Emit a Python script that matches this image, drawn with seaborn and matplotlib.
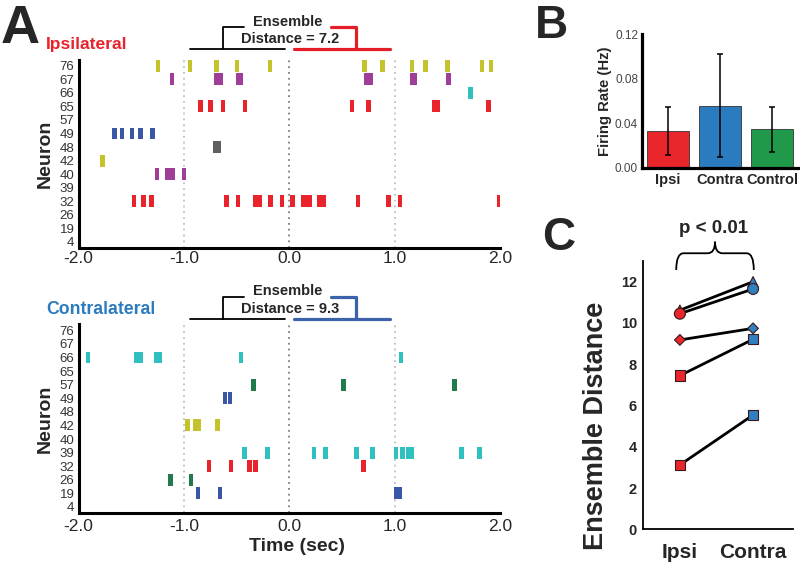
import numpy as np
import pandas as pd
import matplotlib
matplotlib.use("Agg")
import matplotlib.pyplot as plt
import matplotlib.transforms as mtransforms
from matplotlib.path import Path
from matplotlib.patches import PathPatch
import seaborn as sns

sns.set_style("white")
plt.rcParams["font.family"] = ["Liberation Sans", "DejaVu Sans"]

# ---------------- data ----------------
neurons = [76, 67, 66, 65, 57, 49, 48, 42, 40, 39, 32, 26, 19, 4]
time_ticks = [-2.0, -1.0, 0.0, 1.0, 2.0]

ipsi_spikes = {
    76: [-1.244, -0.941, -0.693, -0.496, -0.183, 0.715, 0.882, 1.164, 1.290, 1.502, 1.828, 1.914],
    67: [-1.113, -0.690, -0.655, -0.485, -0.465, 0.735, 0.770, 1.170, 1.195, 1.512],
    66: [1.720],
    65: [-0.844, -0.750, -0.629, -0.420, 0.595, 0.750, 1.380, 1.410, 1.891],
    49: [-1.660, -1.588, -1.493, -1.414, -1.300],
    48: [-0.700, -0.670],
    42: [-1.771],
    40: [-1.255, -1.158, -1.107, -0.999],
    32: [-1.474, -1.385, -1.309, -0.598, -0.487, -0.318, -0.277, -0.180, -0.069, 0.032,
         0.133, 0.165, 0.198, 0.285, 0.330, 0.651, 0.939, 1.050, 1.995],
}
contra_spikes = {
    66: [-1.910, -1.452, -1.407, -1.260, -1.225, -0.458, 1.060],
    57: [-0.342, 0.515, 1.568],
    49: [-0.610, -0.562],
    42: [-0.967, -0.895, -0.862, -0.678],
    39: [-0.426, -0.208, 0.235, 0.346, 0.640, 0.788, 1.013, 1.077, 1.130, 1.165, 1.637, 1.804],
    32: [-0.761, -0.552, -0.378, -0.318, 0.703],
    26: [-1.128, -0.932],
    19: [-0.865, -0.657, 1.018, 1.046],
}
ipsi_distance_label = "Distance = 7.2"
contra_distance_label = "Distance = 9.3"

b_groups = ["Ipsi", "Contra", "Control"]
b_rate = [0.0330, 0.0555, 0.0348]
b_low = [0.0114, 0.0093, 0.0144]
b_high = [0.0549, 0.1020, 0.0549]
b_ticks = [0.00, 0.04, 0.08, 0.12]

c_conditions = ["Ipsi", "Contra"]
c_ipsi = [10.62, 10.45, 9.18, 7.45, 3.12]
c_contra = [12.00, 11.65, 9.74, 9.21, 5.54]
c_ticks = [0, 2, 4, 6, 8, 10, 12]

# ---------------- styles ----------------
OLIVE, PURPLE, CYAN, RED = "#c4c32c", "#9e3e98", "#30c0c0", "#e8232b"
BLUE, GRAY, GREEN = "#3a56a6", "#606060", "#1f7b4c"
neuron_colors = {76: OLIVE, 67: PURPLE, 66: CYAN, 65: RED, 57: GREEN, 49: BLUE,
                 48: GRAY, 42: OLIVE, 40: PURPLE, 39: CYAN, 32: RED, 26: GREEN,
                 19: BLUE, 4: "black"}
b_palette = {"Ipsi": "#e8262b", "Contra": "#2b7bbf", "Control": "#20994a"}
c_palette = {"Ipsi": "#e8262b", "Contra": "#2f7fc1"}
c_markers = ["^", "o", "D", "s", "s"]
c_sizes = [55, 62, 30, 55, 55]

W, H = 800, 563
fig = plt.figure(figsize=(8, 5.63), dpi=100)


def rect(l, t, r, b):
    return [l / W, 1 - b / H, (r - l) / W, (b - t) / H]


def fx(px):
    return px / W


def fy(py):
    return 1 - py / H


# ---------------- Panel A rasters ----------------
def raster(ax, spikes, xpad):
    for i, n in enumerate(neurons):
        t = spikes.get(n, [])
        if len(t):
            ax.bar(t, height=0.88, width=0.044, bottom=i - 0.44,
                   color=neuron_colors[n], linewidth=0, align="center", zorder=3)
    for x, c in [(-1, "#b5b5b5"), (0, "#6a6a6a"), (1, "#b5b5b5")]:
        ax.axvline(x, color=c, lw=1.1, linestyle=(0, (1.2, 2.6)), zorder=1)
    ax.set_xlim(-2, 2)
    ax.set_ylim(13.45, -0.45)
    ax.set_yticks(range(len(neurons)))
    ax.set_yticklabels([str(n) for n in neurons], fontsize=9.5, color="#333333")
    ax.set_xticks(time_ticks)
    ax.set_xticklabels([f"{v:.1f}" for v in time_ticks], fontsize=12.5)
    ax.tick_params(axis="y", length=0, pad=3)
    ax.tick_params(axis="x", length=0, pad=xpad)
    for s in ["top", "right"]:
        ax.spines[s].set_visible(False)
    for s in ["left", "bottom"]:
        ax.spines[s].set_linewidth(2.2)
        ax.spines[s].set_color("black")
    ax.set_ylabel("Neuron", fontsize=14, fontweight="bold")
    ax.yaxis.set_label_coords(-0.058, 0.5)


def brackets(ax, y_lo, y_hi, color):
    tr = mtransforms.blended_transform_factory(ax.transData, ax.transAxes)
    ax.plot([-0.946, -0.038], [y_lo, y_lo], color="black", lw=1.3, transform=tr, clip_on=False)
    ax.plot([-0.629, -0.629, -0.434], [y_lo, y_hi, y_hi], color="black", lw=1.3,
            transform=tr, clip_on=False)
    ax.plot([0.041, 0.952], [y_lo, y_lo], color=color, lw=2.3, transform=tr, clip_on=False)
    ax.plot([0.636, 0.636, 0.396], [y_lo, y_hi, y_hi], color=color, lw=2.3,
            transform=tr, clip_on=False, solid_joinstyle="round")


axA1 = fig.add_axes(rect(78.5, 59.6, 500, 248.1))
raster(axA1, ipsi_spikes, 2)
brackets(axA1, 1 + (59.6 - 49.3) / 188.5, 1 + (59.6 - 27.3) / 188.5, "#e41e26")

axA2 = fig.add_axes(rect(78.5, 324.2, 500, 513.1))
raster(axA2, contra_spikes, 4.5)
brackets(axA2, 1 + (324.2 - 319.3) / 188.9, 1 + (324.2 - 297.3) / 188.9, "#3c62ac")
axA2.set_xlabel("Time (sec)", fontsize=14, fontweight="bold")
axA2.xaxis.set_label_coords(0.518, -0.13)

fig.text(fx(1), fy(43), "A", fontsize=39, fontweight="bold", ha="left", va="baseline")
fig.text(fx(46), fy(48.5), "Ipsilateral", fontsize=12.6, fontweight="bold",
         color="#e8232b", ha="left", va="baseline")
fig.text(fx(46), fy(314.5), "Contralateral", fontsize=12.7, fontweight="bold",
         color="#2b7bbf", ha="left", va="baseline")
fig.text(fx(287.5), fy(26), "Ensemble", fontsize=10.5, fontweight="bold", ha="center", va="baseline")
fig.text(fx(290), fy(43), ipsi_distance_label, fontsize=10.5, fontweight="bold",
         ha="center", va="baseline")
fig.text(fx(287.5), fy(295), "Ensemble", fontsize=10.5, fontweight="bold", ha="center", va="baseline")
fig.text(fx(290), fy(313.3), contra_distance_label, fontsize=10.5, fontweight="bold",
         ha="center", va="baseline")

# ---------------- Panel B ----------------
axB = fig.add_axes(rect(641.5, 34.3, 798.5, 167.7))
dfB = pd.DataFrame({"group": b_groups, "rate": b_rate})
sns.barplot(data=dfB, x="group", y="rate", hue="group", palette=b_palette, legend=False,
            ax=axB, edgecolor="#333333", linewidth=0.6, width=0.8, errorbar=None,
            saturation=1)
rate = np.array(b_rate)
yerr = [rate - np.array(b_low), np.array(b_high) - rate]
axB.errorbar(range(len(b_groups)), b_rate, yerr=yerr, fmt="none", ecolor="black",
             elinewidth=1.1, capsize=2.2, capthick=1.1, zorder=4)
axB.set_xlim(-0.5, 2.5)
axB.set_ylim(0, 0.12)
axB.set_yticks(b_ticks)
axB.set_yticklabels([f"{v:.2f}" for v in b_ticks], fontsize=8.5, color="#444444")
axB.tick_params(axis="y", length=0, pad=2.5)
axB.tick_params(axis="x", length=0, pad=4)
for lab in axB.get_xticklabels():
    lab.set_fontsize(10.5)
    lab.set_fontweight("bold")
axB.set_xlabel("")
axB.set_ylabel("Firing Rate (Hz)", fontsize=10.7, fontweight="bold")
axB.yaxis.set_label_coords(-0.19, 0.5)
for s in ["top", "right"]:
    axB.spines[s].set_visible(False)
for s in ["left", "bottom"]:
    axB.spines[s].set_linewidth(2.3)
    axB.spines[s].set_color("black")
fig.text(fx(535), fy(38), "B", fontsize=33, fontweight="bold", ha="left", va="baseline")

# ---------------- Panel C ----------------
axC = fig.add_axes(rect(643.3, 261.1, 793.3, 529.3))
rows = []
for k in range(len(c_ipsi)):
    rows.append({"subject": k, "cond": c_conditions[0], "pos": 0, "dist": c_ipsi[k]})
    rows.append({"subject": k, "cond": c_conditions[1], "pos": 1, "dist": c_contra[k]})
dfC = pd.DataFrame(rows)
sns.lineplot(data=dfC, x="pos", y="dist", units="subject", estimator=None, color="black",
             linewidth=2.0, ax=axC, legend=False, zorder=2)
for k in range(len(c_ipsi)):
    sns.scatterplot(data=dfC[dfC["subject"] == k], x="pos", y="dist", hue="cond",
                    palette=c_palette, marker=c_markers[k], s=c_sizes[k],
                    edgecolor="#3a1a1a", linewidth=0.8, legend=False, ax=axC, zorder=3 + k)
axC.set_xlim(-0.5, 1.55)
axC.set_ylim(0, 13)
axC.set_xticks([0, 1])
axC.set_xticklabels(c_conditions, fontsize=15, fontweight="bold")
axC.set_yticks(c_ticks)
axC.set_yticklabels([str(v) for v in c_ticks], fontsize=10.5, fontweight="bold")
axC.tick_params(axis="y", length=0, pad=4.5)
axC.tick_params(axis="x", length=0, pad=10)
axC.set_xlabel("")
axC.set_ylabel("Ensemble Distance", fontsize=19.5, fontweight="bold")
axC.yaxis.set_label_coords(-0.23, 0.385)
for s in ["top", "right"]:
    axC.spines[s].set_visible(False)
for s in ["left", "bottom"]:
    axC.spines[s].set_linewidth(1.3)
    axC.spines[s].set_color("black")

# curly brace
x0, x1, xc = -0.05, 1.01, 0.48
yb, ym, yt = 12.57, 13.38, 13.94
dx = 0.10
verts = [(x0, yb), (x0, ym), (x0 + dx, ym), (xc - dx, ym), (xc, ym), (xc, yt),
         (xc, ym), (xc + dx, ym), (x1 - dx, ym), (x1, ym), (x1, yb)]
codes = [Path.MOVETO, Path.CURVE3, Path.CURVE3, Path.LINETO, Path.CURVE3, Path.CURVE3,
         Path.CURVE3, Path.CURVE3, Path.LINETO, Path.CURVE3, Path.CURVE3]
axC.add_patch(PathPatch(Path(verts, codes), facecolor="none", edgecolor="black",
                        lw=1.3, clip_on=False))
axC.text(0.454, 14.59, "p < 0.01", fontsize=13.5, fontweight="bold", ha="center",
         va="center", clip_on=False)
fig.text(fx(542), fy(250), "C", fontsize=33, fontweight="bold", ha="left", va="baseline")

fig.savefig("out.png", dpi=100)
